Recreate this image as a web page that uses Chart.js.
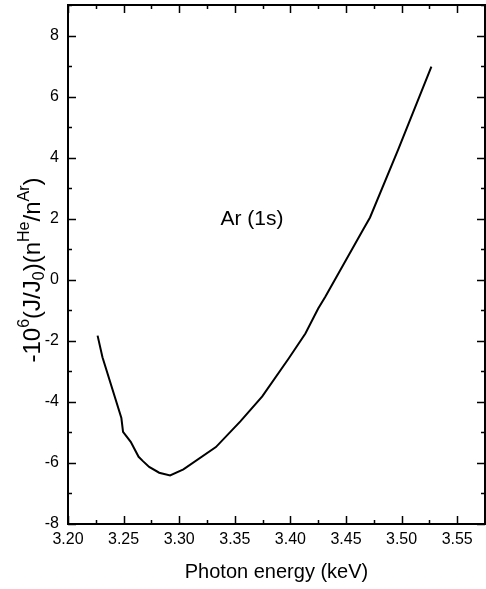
<!DOCTYPE html>
<html>
<head>
<meta charset="utf-8">
<script src="https://cdn.jsdelivr.net/npm/chart.js@4"></script>
<style>
  html, body { margin: 0; padding: 0; background: #fff; }
  canvas { display: block; }
</style>
</head>
<body>
<canvas id="chart" width="486" height="589"></canvas>
<script>
// photon energy (keV) and the Ar (1s) curve
const energy = [3.2266, 3.231, 3.248, 3.2495, 3.2564, 3.2635, 3.2674, 3.273, 3.282, 3.2918,
  3.3038, 3.333, 3.355, 3.3747, 3.3986, 3.4135, 3.425, 3.4314, 3.4657, 3.4716, 3.497, 3.5268]
const signal = [-1.83, -2.54, -4.53, -4.98, -5.31, -5.8, -5.94, -6.13, -6.32, -6.41,
  -6.21, -5.48, -4.64, -3.82, -2.57, -1.76, -0.94, -0.56, 1.66, 2.04, 4.27, 6.98]

const xRange = [3.2, 3.575]
const yRange = [-8, 9]
const xLabelTicks = ["3.20", "3.25", "3.30", "3.35", "3.40", "3.45", "3.50", "3.55"]
const yLabelTicks = [-8, -6, -4, -2, 0, 2, 4, 6, 8]

const annotation = { text: "Ar (1s)", x: 3.3655, y: 2.0 }
const yTitle = [
  { t: "-10" }, { t: "6", pos: "sup" }, { t: "(J/J" }, { t: "0", pos: "sub" },
  { t: ")(n" }, { t: "He", pos: "sup" }, { t: "/n" }, { t: "Ar", pos: "sup" }, { t: ")" },
]

const FONT = "'Liberation Sans', Arial, Helvetica, sans-serif"

const isMajorX = (v) => Math.abs(v * 20 - Math.round(v * 20)) < 1e-6

const frame = {
  id: "frame",
  afterDraw(chart) {
    const { ctx, chartArea: a, scales } = chart
    ctx.save()
    ctx.strokeStyle = "#000"
    ctx.lineWidth = 1.5
    // inward tick marks on all four sides
    scales.x.ticks.forEach((t) => {
      const px = Math.round(scales.x.getPixelForValue(t.value)) + 0.5
      const len = isMajorX(t.value) ? 8 : 4
      ctx.beginPath()
      ctx.moveTo(px, a.bottom); ctx.lineTo(px, a.bottom - len)
      ctx.moveTo(px, a.top); ctx.lineTo(px, a.top + len)
      ctx.stroke()
    })
    scales.y.ticks.forEach((t) => {
      const py = Math.round(scales.y.getPixelForValue(t.value)) + 0.5
      const len = yLabelTicks.includes(t.value) ? 8 : 4
      ctx.beginPath()
      ctx.moveTo(a.left, py); ctx.lineTo(a.left + len, py)
      ctx.moveTo(a.right, py); ctx.lineTo(a.right - len, py)
      ctx.stroke()
    })
    ctx.lineWidth = 2
    ctx.strokeRect(a.left, a.top, a.right - a.left, a.bottom - a.top)

    // in-plot label
    ctx.fillStyle = "#000"
    ctx.font = `21px ${FONT}`
    ctx.textAlign = "center"
    ctx.textBaseline = "middle"
    ctx.fillText(annotation.text, scales.x.getPixelForValue(annotation.x), scales.y.getPixelForValue(annotation.y))

    // rotated y title with super/subscripts
    const size = 24
    const small = 16
    const widths = yTitle.map((s) => {
      ctx.font = `${s.pos ? small : size}px ${FONT}`
      return ctx.measureText(s.t).width
    })
    const total = widths.reduce((sum, w) => sum + w, 0)
    ctx.translate(40, 270)
    ctx.rotate(-Math.PI / 2)
    ctx.textAlign = "left"
    ctx.textBaseline = "alphabetic"
    let cx = -total / 2
    yTitle.forEach((s, i) => {
      ctx.font = `${s.pos ? small : size}px ${FONT}`
      const dy = s.pos === "sup" ? -11 : s.pos === "sub" ? 4 : 0
      ctx.fillText(s.t, cx, dy)
      cx += widths[i]
    })
    ctx.restore()
  },
}

new Chart(document.getElementById("chart"), {
  type: "scatter",
  data: {
    datasets: [
      {
        data: energy.map((e, i) => ({ x: e, y: signal[i] })),
        showLine: true,
        borderColor: "#000",
        borderWidth: 2,
        pointRadius: 0,
        tension: 0,
      },
    ],
  },
  options: {
    responsive: false,
    animation: false,
    layout: { padding: { top: 5, right: 1, left: 0, bottom: 0 } },
    plugins: { legend: { display: false }, tooltip: { enabled: false } },
    scales: {
      x: {
        type: "linear",
        min: xRange[0],
        max: xRange[1],
        afterFit: (s) => {
          s.height = 65
          s.paddingLeft = 0
          s.paddingRight = 0
        },
        border: { display: false },
        grid: { display: false, drawTicks: false },
        ticks: {
          stepSize: 0.025,
          autoSkip: false,
          maxRotation: 0,
          padding: 6,
          color: "#000",
          font: { family: FONT, size: 16 },
          callback: (v) => (isMajorX(v) ? v.toFixed(2) : ""),
        },
        title: {
          display: true,
          text: "Photon energy (keV)",
          color: "#000",
          font: { family: FONT, size: 20 },
          padding: { top: 5, bottom: 5 },
        },
      },
      y: {
        type: "linear",
        min: yRange[0],
        max: yRange[1],
        afterFit: (s) => {
          s.width = 68
          s.paddingTop = 0
          s.paddingBottom = 0
        },
        border: { display: false },
        grid: { display: false, drawTicks: false },
        ticks: {
          stepSize: 1,
          autoSkip: false,
          padding: 9,
          color: "#000",
          font: { family: FONT, size: 16 },
          callback: (v) => (yLabelTicks.includes(v) ? String(v) : ""),
        },
      },
    },
  },
  plugins: [frame],
})
</script>
</body>
</html>
